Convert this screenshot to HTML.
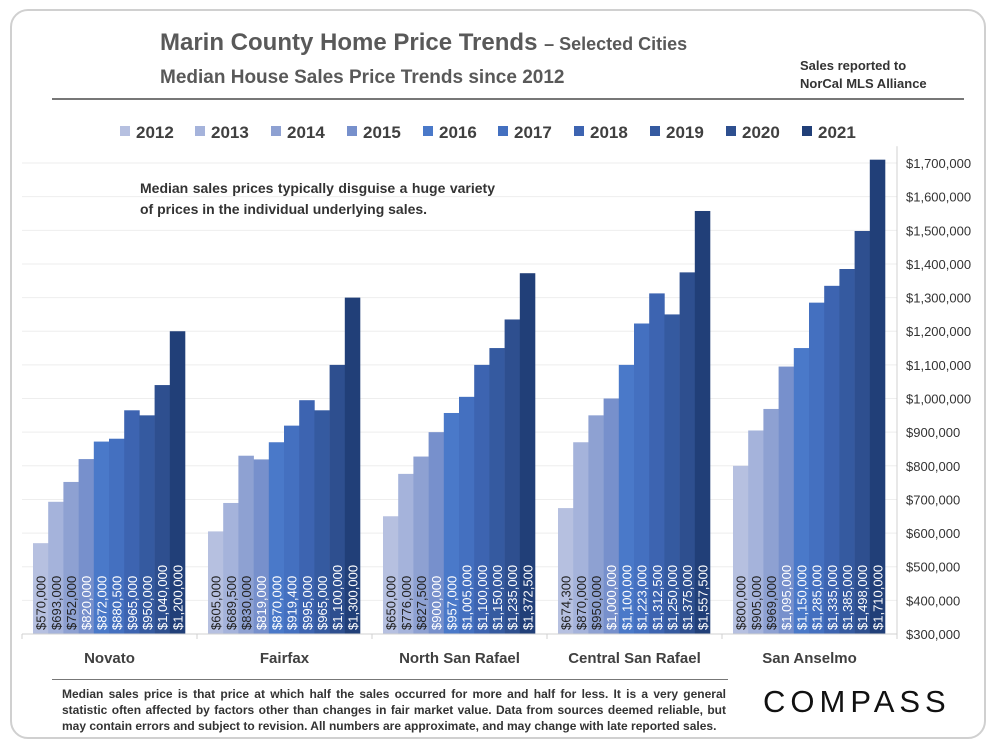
<!DOCTYPE html>
<html><head><meta charset="utf-8"><style>
body{margin:0;background:#fff;font-family:"Liberation Sans",sans-serif;}
#card{position:absolute;left:10px;top:9px;width:976px;height:730px;border:2px solid #d0d0d0;border-radius:18px;box-sizing:border-box;}
.t{position:absolute;color:#595959;font-weight:bold;white-space:nowrap;}
</style></head><body>
<div id="card"></div>
<div class="t" style="left:160px;top:29px;font-size:24px;">Marin County Home Price Trends <span style="font-size:18px">– Selected Cities</span></div>
<div class="t" style="left:160px;top:67px;font-size:19px;">Median House Sales Price Trends since 2012</div>
<div class="t" style="left:800px;top:57px;font-size:13px;line-height:18px;color:#333;">Sales reported to<br>NorCal MLS Alliance</div>
<div style="position:absolute;left:52px;top:98px;width:912px;height:2px;background:#777"></div>
<div class="t" style="left:140px;top:178px;font-size:14px;line-height:21px;color:#333;width:355px;white-space:normal;text-align:justify;">Median sales prices typically disguise a huge variety of prices in the individual underlying sales.</div>
<div style="position:absolute;left:52px;top:679px;width:676px;height:1px;background:#777"></div>
<div class="t" style="left:62px;top:686px;width:664px;font-size:12px;line-height:16px;color:#333;white-space:normal;text-align:justify;">Median sales price is that price at which half the sales occurred for more and half for less. It is a very general statistic often affected by factors other than changes in fair market value. Data from sources deemed reliable, but may contain errors and subject to revision. All numbers are approximate, and may change with late reported sales.</div>
<div style="position:absolute;left:763px;top:684px;font-size:31px;letter-spacing:5px;color:#111;font-family:'Liberation Sans',sans-serif;">COMPASS</div>
<svg id="chart" width="1000" height="750" style="position:absolute;left:0;top:0"></svg>
<script>
const cities=["Novato","Fairfax","North San Rafael","Central San Rafael","San Anselmo"];
const years=["2012","2013","2014","2015","2016","2017","2018","2019","2020","2021"];
const novato=[570000,693000,752000,820000,872000,880500,965000,950000,1040000,1200000];
const fairfax=[605000,689500,830000,819000,870000,919400,995000,965000,1100000,1300000];
const northSR=[650000,776000,827500,900000,957000,1005000,1100000,1150000,1235000,1372500];
const centralSR=[674300,870000,950000,1000000,1100000,1223000,1312500,1250000,1375000,1557500];
const sanAnselmo=[800000,905000,969000,1095000,1150000,1285000,1335000,1385000,1498000,1710000];
const series=[novato,fairfax,northSR,centralSR,sanAnselmo];
const yTicks=[300000,400000,500000,600000,700000,800000,900000,1000000,1100000,1200000,1300000,1400000,1500000,1600000,1700000];
const colors=["#b6c0e0","#a5b3db","#8ea1d2","#7790cc","#4a79c9","#4470c0","#3d64b1","#355aa0","#2e4f8f","#213f78"];
const svg=document.getElementById('chart');const NS="http://www.w3.org/2000/svg";
const X0=22,GW=175,BW=15.2,BOFF=11,Y0=634;
const y=v=>Y0-(v-300000)/100000*33.64;
function mk(t,a,p){const e=document.createElementNS(NS,t);for(const k in a)e.setAttribute(k,a[k]);(p||svg).appendChild(e);return e;}
yTicks.forEach(v=>{
 if(v>300000){const g=mk('line',{x1:X0,x2:897,y1:y(v),y2:y(v),stroke:'#eeeeee'});}
 const t=mk('text',{x:906,y:y(v)+5,'font-size':13,fill:'#333','font-family':'Liberation Sans, sans-serif'});t.textContent='$'+v.toLocaleString('en-US');
 
});
const ax=mk('line',{x1:897,x2:897,y1:y(1750000),y2:Y0,stroke:'#d0d0d0'});
series.forEach((s,gi)=>{
 s.forEach((v,i)=>{
  const x=X0+gi*GW+BOFF+i*BW;
  const r=mk('rect',{x:x,y:y(v),width:BW+0.3,height:Y0-y(v),fill:colors[i]});
  
  const t=mk('text',{transform:`translate(${x+BW/2+5},${Y0-4}) rotate(-90)`,'font-size':13,fill:i<3?'#222':'#fff','font-family':'Liberation Sans, sans-serif'});
  t.textContent='$'+v.toLocaleString('en-US');
 });
 const c=mk('text',{x:X0+gi*GW+GW/2,y:663,'text-anchor':'middle','font-size':15,'font-weight':'bold',fill:'#404040','font-family':'Liberation Sans, sans-serif'});
 c.textContent=cities[gi];
});
const xa=mk('line',{x1:X0,x2:897,y1:Y0,y2:Y0,stroke:'#d0d0d0'});
for(let g=0;g<=5;g++){const tk=mk('line',{x1:X0+g*GW,x2:X0+g*GW,y1:Y0,y2:Y0+5,stroke:'#d0d0d0'});}
const lx=[120,195,271,347,423,498,574,650,726,802];
years.forEach((yr,i)=>{
 const r=mk('rect',{x:lx[i],y:126,width:10,height:10,fill:colors[i]});
 const t=mk('text',{x:lx[i]+16,y:138,'font-size':17,'font-weight':'bold',fill:'#404040','font-family':'Liberation Sans, sans-serif'});t.textContent=yr;
 
});
</script>
</body></html>
